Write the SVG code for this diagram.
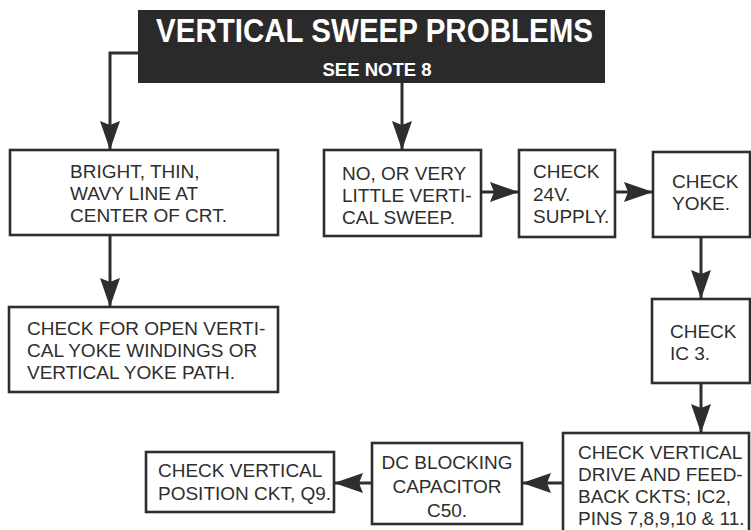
<svg xmlns="http://www.w3.org/2000/svg" width="751" height="530" viewBox="0 0 751 530">
<style>
.box{fill:none;stroke:#2e2e2e;stroke-width:2.6}
.t{font-family:"Liberation Sans",Arial,sans-serif;font-size:19px;fill:#2e2e2e}
.c{text-anchor:middle}
.ln{fill:none;stroke:#2e2e2e;stroke-width:3}
.hd{font-family:"Liberation Sans",Arial,sans-serif;font-weight:bold;fill:#ffffff;text-anchor:middle}
</style>
<defs>
<marker id="ah" viewBox="0 0 29 20" refX="29" refY="10" markerWidth="29" markerHeight="20" markerUnits="userSpaceOnUse" orient="auto">
<path d="M0,0 L29,10 L0,20 L4,10 z" fill="#2e2e2e"/>
</marker>
</defs>
<rect x="0" y="0" width="751" height="530" fill="#ffffff"/>
<g id="connectors">
<path class="ln" d="M138,53 H110 V150" marker-end="url(#ah)"/>
<path class="ln" d="M402,83 V150" marker-end="url(#ah)"/>
<path class="ln" d="M481,192 H519" marker-end="url(#ah)"/>
<path class="ln" d="M615,192 H653" marker-end="url(#ah)"/>
<path class="ln" d="M701,237 V299" marker-end="url(#ah)"/>
<path class="ln" d="M701,383 V433" marker-end="url(#ah)"/>
<path class="ln" d="M110,235 V307" marker-end="url(#ah)"/>
<path class="ln" d="M563,483 H522" marker-end="url(#ah)"/>
<path class="ln" d="M372,483 H334" marker-end="url(#ah)"/>
</g>
<g id="title">
<rect x="138" y="10" width="467" height="73" fill="#2a2a2a"/>
<text class="hd" x="374.5" y="42" font-size="33" textLength="437" lengthAdjust="spacingAndGlyphs">VERTICAL SWEEP PROBLEMS</text>
<text class="hd" x="377" y="76" font-size="18" textLength="109" lengthAdjust="spacingAndGlyphs">SEE NOTE 8</text>
</g>
<g id="bright">
<rect class="box" x="10" y="150" width="268" height="85"/>
<text class="t" x="70" y="178">BRIGHT, THIN,</text>
<text class="t" x="70" y="200">WAVY LINE AT</text>
<text class="t" x="70" y="222">CENTER OF CRT.</text>
</g>
<g id="open">
<rect class="box" x="9" y="307" width="269" height="85"/>
<text class="t" x="27" y="335">CHECK FOR OPEN VERTI-</text>
<text class="t" x="27" y="357">CAL YOKE WINDINGS OR</text>
<text class="t" x="27" y="379">VERTICAL YOKE PATH.</text>
</g>
<g id="nosweep">
<rect class="box" x="324" y="150" width="157" height="86"/>
<text class="t" x="342" y="180">NO, OR VERY</text>
<text class="t" x="342" y="202">LITTLE VERTI-</text>
<text class="t" x="342" y="224">CAL SWEEP.</text>
</g>
<g id="supply">
<rect class="box" x="519" y="150" width="96" height="87"/>
<text class="t" x="533" y="178">CHECK</text>
<text class="t" x="533" y="201">24V.</text>
<text class="t" x="533" y="223">SUPPLY.</text>
</g>
<g id="yoke">
<rect class="box" x="653" y="152" width="97" height="85"/>
<text class="t" x="672" y="188">CHECK</text>
<text class="t" x="672" y="210">YOKE.</text>
</g>
<g id="ic3">
<rect class="box" x="652" y="299" width="98" height="84"/>
<text class="t" x="670" y="338">CHECK</text>
<text class="t" x="670" y="360">IC 3.</text>
</g>
<g id="drive">
<rect class="box" x="563" y="433" width="186" height="102"/>
<text class="t" x="578" y="459">CHECK VERTICAL</text>
<text class="t" x="578" y="481">DRIVE AND FEED-</text>
<text class="t" x="578" y="503">BACK CKTS; IC2,</text>
<text class="t" x="578" y="525">PINS 7,8,9,10 &amp; 11.</text>
</g>
<g id="dcblock">
<rect class="box" x="372" y="443" width="150" height="81"/>
<text class="t c" x="447" y="469">DC BLOCKING</text>
<text class="t c" x="447" y="493">CAPACITOR</text>
<text class="t c" x="447" y="517">C50.</text>
</g>
<g id="position">
<rect class="box" x="146" y="452" width="188" height="60"/>
<text class="t" x="158" y="477">CHECK VERTICAL</text>
<text class="t" x="158" y="500">POSITION CKT, Q9.</text>
</g>
</svg>
